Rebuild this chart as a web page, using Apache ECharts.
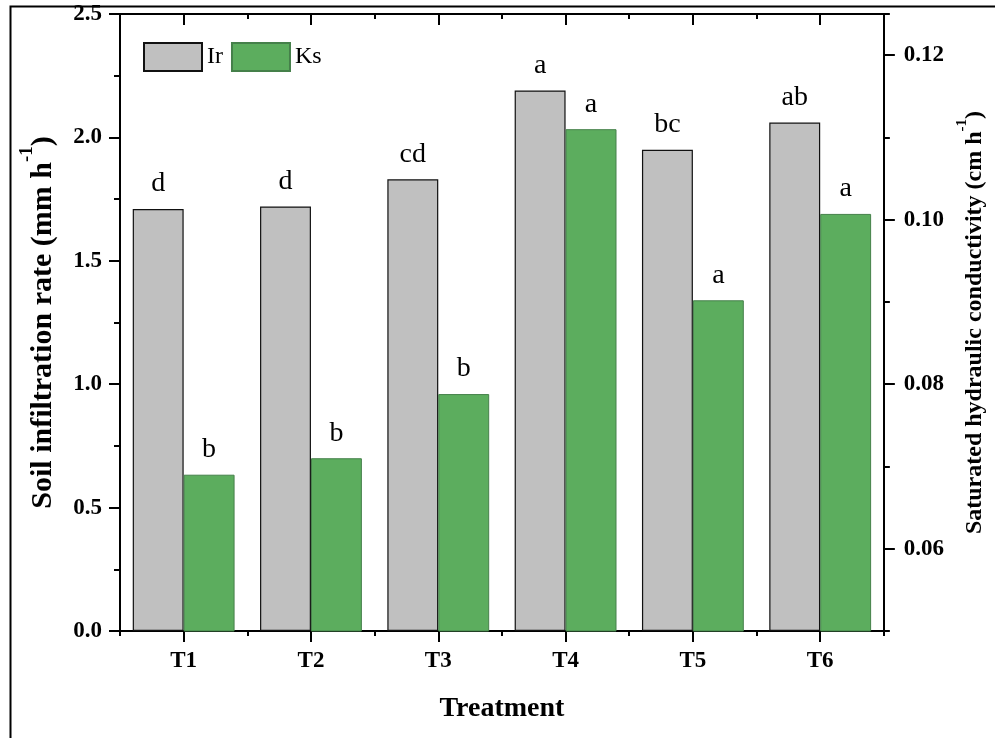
<!DOCTYPE html>
<html><head><meta charset="utf-8">
<script src="https://cdn.jsdelivr.net/npm/echarts@6/dist/echarts.min.js"></script>
<style>html,body{margin:0;padding:0;background:#fff}#c{width:995px;height:738px}</style>
</head><body><div id="c"></div>
<script>
const categories = ['T1', 'T2', 'T3', 'T4', 'T5', 'T6'];
const irValues = [1.71, 1.72, 1.83, 2.19, 1.95, 2.06];
const ksValues = [0.069, 0.071, 0.0788, 0.111, 0.0902, 0.1007];
const irLetters = ['d', 'd', 'cd', 'a', 'bc', 'ab'];
const ksLetters = ['b', 'b', 'b', 'a', 'a', 'a'];
const seriesNames = ['Ir', 'Ks'];

const FONT = "'Liberation Serif','Times New Roman',serif";
const BLACK = '#000';
const lineW = { color: BLACK, width: 2 };
const axisLine = { show: true, onZero: false, lineStyle: lineW };

const chart = echarts.init(document.getElementById('c'), null, { renderer: 'canvas' });

const option = {
  animation: false,
  backgroundColor: '#fff',
  graphic: [{
    type: 'rect', left: 8, top: 4, silent: true,
    shape: { width: 1000, height: 800 },
    style: { fill: 'none', stroke: BLACK, lineWidth: 2 }
  }],
  legend: {
    left: 138, top: 37, itemWidth: 58, itemHeight: 28, itemGap: 8,
    icon: 'rect',
    textStyle: { fontFamily: FONT, fontSize: 24, color: BLACK },
    data: seriesNames
  },
  grid: { left: 120, right: 108, top: 14, bottom: 107, containLabel: false },
  xAxis: [
    {
      type: 'category', data: categories, position: 'bottom', axisLine: axisLine,
      axisTick: { show: true, alignWithLabel: true, length: 11, lineStyle: lineW },
      axisLabel: { fontFamily: FONT, fontWeight: 'bold', fontSize: 23, color: BLACK, margin: 19 },
      splitLine: { show: false },
      name: 'Treatment', nameLocation: 'middle', nameGap: 64,
      nameTextStyle: { fontFamily: FONT, fontWeight: 'bold', fontSize: 28, color: BLACK }
    },
    {
      type: 'category', data: categories, position: 'bottom',
      axisLine: { show: false },
      axisTick: { show: true, length: 5, lineStyle: lineW },
      axisLabel: { show: false }, splitLine: { show: false }
    },
    {
      type: 'category', data: categories, position: 'top', axisLine: axisLine,
      axisTick: { show: true, inside: true, alignWithLabel: true, length: 11, lineStyle: lineW },
      axisLabel: { show: false }, splitLine: { show: false }
    },
    {
      type: 'category', data: categories, position: 'top',
      axisLine: { show: false },
      axisTick: { show: true, inside: true, length: 5, lineStyle: lineW },
      axisLabel: { show: false }, splitLine: { show: false }
    }
  ],
  yAxis: [
    {
      type: 'value', min: 0, max: 2.5, interval: 0.5, position: 'left',
      axisLine: axisLine,
      axisTick: { show: true, length: 11, lineStyle: lineW },
      minorTick: { show: true, splitNumber: 2, length: 6, lineStyle: lineW },
      splitLine: { show: false }, minorSplitLine: { show: false },
      axisLabel: { formatter: v => v.toFixed(1), fontFamily: FONT, fontWeight: 'bold', fontSize: 23, color: BLACK, margin: 18 },
      name: '{t|Soil infiltration rate (mm h}{s|-1}{t|)}',
      nameLocation: 'middle', nameGap: 62, nameRotate: 90,
      nameTextStyle: {
        rich: {
          t: { fontFamily: FONT, fontWeight: 'bold', fontSize: 30, color: BLACK, lineHeight: 40, verticalAlign: 'bottom' },
          s: { fontFamily: FONT, fontWeight: 'bold', fontSize: 19, color: BLACK, lineHeight: 18, verticalAlign: 'top' }
        }
      }
    },
    {
      type: 'value', min: 0.05, max: 0.125, splitNumber: 4, position: 'right',
      axisLine: axisLine,
      axisTick: { show: true, length: 11, lineStyle: lineW },
      splitLine: { show: false },
      axisLabel: { showMinLabel: false, showMaxLabel: false, formatter: v => v.toFixed(2), fontFamily: FONT, fontWeight: 'bold', fontSize: 23, color: BLACK, margin: 20 },
      name: '{t|Saturated hydraulic conductivity (cm h}{s|-1}{t|)}',
      nameLocation: 'middle', nameGap: 68, nameRotate: 90,
      nameTextStyle: {
        rich: {
          t: { fontFamily: FONT, fontWeight: 'bold', fontSize: 24, color: BLACK, lineHeight: 32, verticalAlign: 'bottom' },
          s: { fontFamily: FONT, fontWeight: 'bold', fontSize: 15, color: BLACK, lineHeight: 15, verticalAlign: 'top' }
        }
      }
    },
    {
      type: 'value', min: 0.05, max: 0.125, interval: 0.01, position: 'right',
      axisLine: { show: false },
      axisTick: { show: true, length: 6, lineStyle: lineW },
      axisLabel: { show: false }, splitLine: { show: false }
    }
  ],
  series: [
    {
      name: seriesNames[0], type: 'bar', xAxisIndex: 0, yAxisIndex: 0,
      data: irValues, barGap: '0%', barCategoryGap: '20%',
      itemStyle: { color: '#c0c0c0', borderColor: '#111', borderWidth: 1.2 },
      label: {
        show: true, position: 'top', distance: 11,
        formatter: p => irLetters[p.dataIndex],
        fontFamily: FONT, fontSize: 28, color: BLACK
      }
    },
    {
      name: seriesNames[1], type: 'bar', xAxisIndex: 0, yAxisIndex: 1,
      data: ksValues, barGap: '0%', barCategoryGap: '20%',
      itemStyle: { color: '#5cad5e', borderColor: '#45804a', borderWidth: 1 },
      label: {
        show: true, position: 'top', distance: 11,
        formatter: p => ksLetters[p.dataIndex],
        fontFamily: FONT, fontSize: 28, color: BLACK
      }
    }
  ]
};
chart.setOption(option);
</script>
</body></html>
